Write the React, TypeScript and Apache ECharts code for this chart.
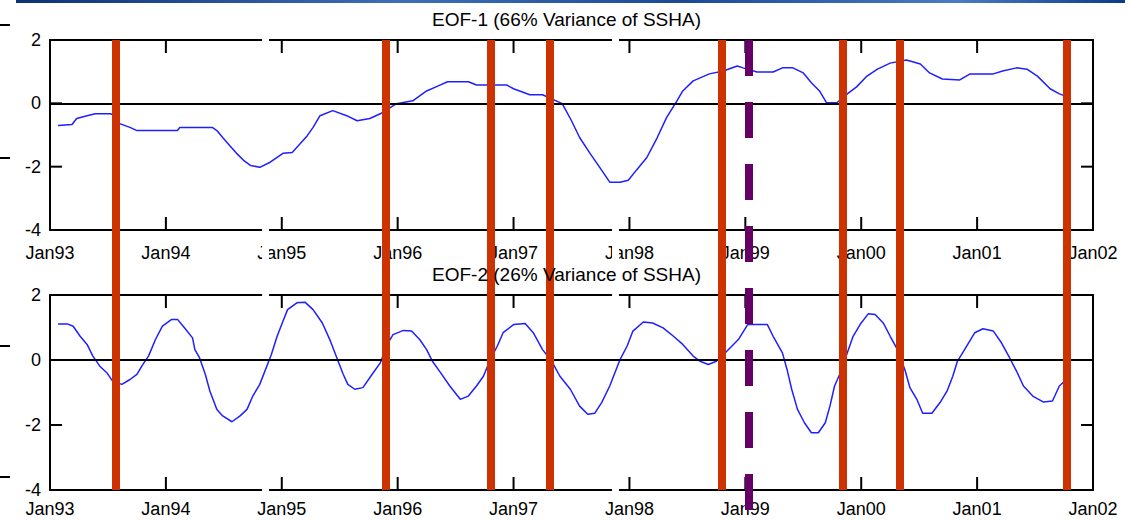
import { useEffect, useRef } from "react";
import * as echarts from "echarts";

// ---- data ----
const xMin = 1993;
const xMax = 2002;
const yMin = -4;
const yMax = 2;
const xTickYears = [1993, 1994, 1995, 1996, 1997, 1998, 1999, 2000, 2001, 2002];
const yTickValues = [-4, -2, 0, 2];

const titles = ["EOF-1 (66% Variance of SSHA)", "EOF-2 (26% Variance of SSHA)"];

const eof1Years = [
  1993.07, 1993.19, 1993.23, 1993.32, 1993.39, 1993.52, 1993.57, 1993.6, 1993.69, 1993.75,
  1994.1, 1994.12, 1994.4, 1994.44, 1994.49, 1994.55, 1994.61, 1994.67, 1994.73, 1994.81,
  1994.9, 1995.01, 1995.09, 1995.16, 1995.22, 1995.27, 1995.33, 1995.44, 1995.56, 1995.65,
  1995.76, 1995.85, 1995.99, 1996.13, 1996.25, 1996.35, 1996.43, 1996.61, 1996.68, 1996.94,
  1997.0, 1997.14, 1997.25, 1997.42, 1997.5, 1997.57, 1997.66, 1997.76, 1997.83, 1997.92,
  1997.99, 1998.06, 1998.15, 1998.24, 1998.32, 1998.41, 1998.46, 1998.55, 1998.69, 1998.81,
  1998.93, 1998.98, 1999.1, 1999.24, 1999.32, 1999.41, 1999.5, 1999.57, 1999.64, 1999.7,
  1999.79, 1999.88, 1999.96, 2000.05, 2000.14, 2000.25, 2000.39, 2000.51, 2000.59, 2000.7,
  2000.85, 2000.94, 2001.14, 2001.22, 2001.34, 2001.43, 2001.52, 2001.63, 2001.71, 2001.8,
];
const eof1Values = [
  -0.7, -0.67, -0.48, -0.39, -0.33, -0.33, -0.39, -0.64, -0.76, -0.86,
  -0.86, -0.76, -0.76, -0.86, -1.08, -1.33, -1.58, -1.8, -1.96, -2.02,
  -1.86, -1.58, -1.55, -1.27, -1.02, -0.76, -0.39, -0.23, -0.39, -0.55,
  -0.48, -0.33, -0.01, 0.08, 0.39, 0.55, 0.68, 0.68, 0.58, 0.58,
  0.46, 0.27, 0.27, -0.01, -0.55, -1.08, -1.58, -2.11, -2.49, -2.49,
  -2.43, -2.11, -1.71, -1.08, -0.45, 0.08, 0.39, 0.71, 0.93, 1.02,
  1.18, 1.12, 0.99, 0.99, 1.12, 1.12, 0.96, 0.65, 0.39, 0.02,
  0.02, 0.3, 0.52, 0.86, 1.08, 1.27, 1.37, 1.24, 0.96, 0.77,
  0.74, 0.93, 0.93, 1.02, 1.12, 1.08, 0.86, 0.46, 0.3, 0.18,
];

const eof2Years = [
  1993.07, 1993.15, 1993.2, 1993.26, 1993.32, 1993.37, 1993.43, 1993.49, 1993.54, 1993.62,
  1993.69, 1993.75, 1993.8, 1993.85, 1993.91, 1993.97, 1994.05, 1994.1, 1994.16, 1994.23,
  1994.25, 1994.29, 1994.34, 1994.38, 1994.44, 1994.49, 1994.57, 1994.64, 1994.7, 1994.75,
  1994.81, 1994.91, 1994.96, 1995.01, 1995.05, 1995.13, 1995.2, 1995.27, 1995.35, 1995.42,
  1995.48, 1995.53, 1995.57, 1995.63, 1995.7, 1995.78, 1995.85, 1995.91, 1995.96, 1996.05,
  1996.12, 1996.19, 1996.25, 1996.3, 1996.37, 1996.45, 1996.54, 1996.61, 1996.68, 1996.74,
  1996.8, 1996.86, 1996.91, 1997.0, 1997.1, 1997.17, 1997.25, 1997.33, 1997.4, 1997.49,
  1997.57, 1997.64, 1997.7, 1997.76, 1997.83, 1997.92, 1997.98, 1998.03, 1998.12, 1998.2,
  1998.29, 1998.38, 1998.46, 1998.55, 1998.61, 1998.68, 1998.75, 1998.84, 1998.94, 1999.02,
  1999.19, 1999.24, 1999.32, 1999.36, 1999.4, 1999.45, 1999.51, 1999.57, 1999.63, 1999.69,
  1999.73, 1999.77, 1999.82, 1999.88, 1999.93, 1999.99, 2000.06, 2000.12, 2000.19, 2000.25,
  2000.32, 2000.38, 2000.42, 2000.48, 2000.53, 2000.61, 2000.68, 2000.74, 2000.79, 2000.83,
  2000.91, 2000.98, 2001.05, 2001.14, 2001.21, 2001.28, 2001.34, 2001.4, 2001.48, 2001.57,
  2001.65, 2001.71, 2001.8,
];
const eof2Values = [
  1.11, 1.11, 1.04, 0.73, 0.48, 0.12, -0.19, -0.39, -0.65, -0.75,
  -0.6, -0.44, -0.14, 0.12, 0.63, 1.04, 1.25, 1.25, 0.99, 0.68,
  0.32, 0.07, -0.44, -0.96, -1.52, -1.72, -1.9, -1.72, -1.52, -1.11,
  -0.75, 0.17, 0.73, 1.19, 1.55, 1.76, 1.78, 1.55, 1.14, 0.58,
  0.02, -0.44, -0.75, -0.9, -0.85, -0.44, -0.09, 0.48, 0.78, 0.91,
  0.89, 0.63, 0.32, -0.04, -0.39, -0.8, -1.21, -1.11, -0.8, -0.5,
  0.02, 0.43, 0.84, 1.09, 1.12, 0.84, 0.32, -0.04, -0.5, -0.9,
  -1.42, -1.67, -1.64, -1.31, -0.8, 0.02, 0.43, 0.89, 1.17, 1.14,
  0.99, 0.73, 0.48, 0.12, -0.04, -0.14, -0.04, 0.27, 0.63, 1.09,
  1.09, 0.73, 0.22, -0.29, -0.9, -1.52, -1.93, -2.24, -2.24, -1.93,
  -1.42, -0.8, -0.39, 0.22, 0.73, 1.09, 1.42, 1.4, 1.14, 0.73,
  0.27, -0.34, -0.85, -1.21, -1.64, -1.64, -1.31, -0.96, -0.5, -0.04,
  0.43, 0.84, 0.96, 0.89, 0.53, 0.07, -0.34, -0.8, -1.11, -1.29,
  -1.26, -0.8, -0.5,
];

const redEvents = [1993.57, 1995.9, 1996.8, 1997.31, 1998.8, 1999.84, 2000.33, 2001.77];
const purpleEvents = [1999.03];
const maskRanges = [
  [1994.83, 1994.89],
  [1997.85, 1997.91],
];

const FONT = "'Liberation Sans', Arial, Helvetica, sans-serif";

export default function App() {
  const ref = useRef<HTMLDivElement>(null);

  useEffect(() => {
    if (!ref.current) return;
    const chart = echarts.init(ref.current, undefined, { renderer: "svg" });

    const L = 50;
    const W = 1043;
    const panels = [
      { top: 40, height: 190, labelMargin: 14 },
      { top: 295, height: 195, labelMargin: 10 },
    ];

    const grids: any[] = panels.map((p) => ({ left: L, top: p.top, width: W, height: p.height }));
    // overlay grids: red lines, purple dashed line, white masks
    grids.push({ left: L, top: 40, width: W, height: 450 });
    grids.push({ left: L, top: 40, width: W, height: 470 });
    grids.push({ left: L, top: 36, width: W, height: 456 });

    const mkLine = () => ({ show: true, onZero: false, lineStyle: { color: "#000", width: 2 } });
    const xAxes: any[] = [];
    const yAxes: any[] = [];
    panels.forEach((p, i) => {
      xAxes.push({
        type: "value",
        gridIndex: i,
        position: "bottom",
        min: xMin,
        max: xMax,
        interval: 1,
        axisLine: mkLine(),
        axisTick: { show: false },
        splitLine: { show: false },
        axisLabel: {
          show: true,
          margin: p.labelMargin,
          color: "#000",
          fontSize: 18,
          fontFamily: FONT,
          formatter: (v: number) => "Jan" + String(Math.round(v) % 100).padStart(2, "0"),
        },
      });
      xAxes.push({
        type: "value",
        gridIndex: i,
        position: "top",
        min: xMin,
        max: xMax,
        interval: 1,
        axisLine: mkLine(),
        axisTick: { show: false },
        splitLine: { show: false },
        axisLabel: { show: false },
      });
      yAxes.push({
        type: "value",
        gridIndex: i,
        position: "left",
        min: yMin,
        max: yMax,
        interval: 2,
        axisLine: mkLine(),
        axisTick: { show: false },
        splitLine: { show: false },
        axisLabel: { show: true, margin: 9, color: "#000", fontSize: 18, fontFamily: FONT },
      });
      yAxes.push({
        type: "value",
        gridIndex: i,
        position: "right",
        min: yMin,
        max: yMax,
        interval: 2,
        axisLine: mkLine(),
        axisTick: { show: false },
        splitLine: { show: false },
        axisLabel: { show: false },
      });
    });
    for (let g = 2; g <= 4; g++) {
      xAxes.push({ type: "value", gridIndex: g, min: xMin, max: xMax, show: false });
      yAxes.push({ type: "value", gridIndex: g, min: 0, max: 1, show: false });
    }

    const curves = [
      { years: eof1Years, values: eof1Values },
      { years: eof2Years, values: eof2Values },
    ];

    const series: any[] = [];
    curves.forEach((c, i) => {
      series.push({
        type: "line",
        xAxisIndex: i * 2,
        yAxisIndex: i * 2,
        data: c.years.map((y, k) => [y, c.values[k]]),
        showSymbol: false,
        symbol: "none",
        lineStyle: { color: "#1f1fff", width: 1.5 },
        z: 3,
        markLine: {
          silent: true,
          symbol: "none",
          label: { show: false },
          lineStyle: { color: "#000", width: 2, type: "solid" },
          data: [{ yAxis: 0 }],
        },
      });
      // inside ticks on top and bottom borders (positions from the axis scale)
      series.push({
        type: "custom",
        xAxisIndex: i * 2,
        yAxisIndex: i * 2,
        silent: true,
        clip: false,
        z: 4,
        data: xTickYears.map((t) => [t, 0]),
        renderItem: (_params: any, api: any) => {
          const x = api.value(0);
          const top = api.coord([x, yMax]);
          const bot = api.coord([x, yMin]);
          const st = { stroke: "#000", lineWidth: 2 };
          return {
            type: "group",
            children: [
              { type: "line", shape: { x1: top[0], y1: top[1], x2: top[0], y2: top[1] + 13 }, style: st },
              { type: "line", shape: { x1: bot[0], y1: bot[1], x2: bot[0], y2: bot[1] - 13 }, style: st },
            ],
          };
        },
      });
      // inside ticks on left and right borders
      series.push({
        type: "custom",
        xAxisIndex: i * 2,
        yAxisIndex: i * 2,
        silent: true,
        clip: false,
        z: 4,
        data: yTickValues.map((v) => [xMin, v]),
        renderItem: (_params: any, api: any) => {
          const v = api.value(1);
          const lp = api.coord([xMin, v]);
          const rp = api.coord([xMax, v]);
          const st = { stroke: "#000", lineWidth: 2 };
          return {
            type: "group",
            children: [
              { type: "line", shape: { x1: lp[0], y1: lp[1], x2: lp[0] + 12, y2: lp[1] }, style: st },
              { type: "line", shape: { x1: rp[0], y1: rp[1], x2: rp[0] - 12, y2: rp[1] }, style: st },
            ],
          };
        },
      });
    });

    series.push({
      type: "line",
      xAxisIndex: 4,
      yAxisIndex: 4,
      data: [],
      z: 20,
      markLine: {
        silent: true,
        symbol: "none",
        label: { show: false },
        lineStyle: { color: "#cc3300", width: 8, type: "solid" },
        data: redEvents.map((v) => ({ xAxis: v })),
      },
    });
    series.push({
      type: "line",
      xAxisIndex: 5,
      yAxisIndex: 5,
      data: [],
      z: 20,
      markLine: {
        silent: true,
        symbol: "none",
        label: { show: false },
        lineStyle: { color: "#660066", width: 8, type: [36, 26] },
        data: purpleEvents.map((v) => ({ xAxis: v })),
      },
    });
    series.push({
      type: "line",
      xAxisIndex: 6,
      yAxisIndex: 6,
      data: [],
      z: 30,
      markArea: {
        silent: true,
        itemStyle: { color: "#ffffff", opacity: 1 },
        label: { show: false },
        data: maskRanges.map((r) => [{ xAxis: r[0] }, { xAxis: r[1] }]),
      },
    });

    chart.setOption({
      animation: false,
      backgroundColor: "#ffffff",
      title: [
        {
          text: titles[0],
          left: "center",
          top: 10,
          padding: 0,
          textStyle: { fontSize: 19, fontWeight: "normal", color: "#000", fontFamily: FONT },
        },
        {
          text: titles[1],
          left: "center",
          top: 265,
          padding: 0,
          textStyle: { fontSize: 19, fontWeight: "normal", color: "#000", fontFamily: FONT },
        },
      ],
      grid: grids,
      xAxis: xAxes,
      yAxis: yAxes,
      series,
      graphic: [
        {
          type: "rect",
          shape: { x: 16, y: 0, width: 1109, height: 3 },
          style: {
            fill: new echarts.graphic.LinearGradient(0, 0, 1, 0, [
              { offset: 0, color: "#0d3272" },
              { offset: 0.35, color: "#3f6fb3" },
              { offset: 0.6, color: "#1b4a93" },
              { offset: 0.85, color: "#4a7cc0" },
              { offset: 1, color: "#0b3a88" },
            ]),
          },
          silent: true,
        },
        ...[25, 158, 346, 477].map((y) => ({
          type: "line",
          shape: { x1: 0, y1: y, x2: 10, y2: y },
          style: { stroke: "#000", lineWidth: 2 },
          silent: true,
        })),
      ],
    });

    return () => chart.dispose();
  }, []);

  return (
    <div
      ref={ref}
      style={{ position: "fixed", left: 0, top: 0, width: 1133, height: 521, background: "#fff" }}
    />
  );
}
